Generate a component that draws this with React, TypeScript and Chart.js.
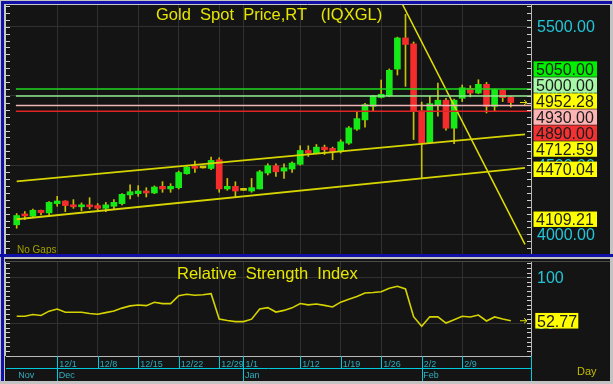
import React, { useEffect, useRef } from 'react';
import { Chart, registerables } from 'chart.js';

Chart.register(...registerables);

// ---------------- data ----------------
const dates = [
  '11/24', '11/25', '11/26', '11/27', '11/28',
  '12/1', '12/2', '12/3', '12/4', '12/5',
  '12/8', '12/9', '12/10', '12/11', '12/12',
  '12/15', '12/16', '12/17', '12/18', '12/19',
  '12/22', '12/23', '12/24', '12/25', '12/26',
  '12/29', '12/30', '12/31', '1/1', '1/2',
  '1/5', '1/6', '1/7', '1/8', '1/9',
  '1/12', '1/13', '1/14', '1/15', '1/16',
  '1/19', '1/20', '1/21', '1/22', '1/23',
  '1/26', '1/27', '1/28', '1/29', '1/30',
  '2/2', '2/3', '2/4', '2/5', '2/6',
  '2/9', '2/10', '2/11', '2/12', '2/13',
  '2/16', '2/17',
];

const openPrices = [
  4069, 4140, 4131, 4174, 4155,
  4222, 4241, 4213, 4199, 4213,
  4208, 4188, 4203, 4222, 4285,
  4294, 4313, 4299, 4347, 4328,
  4337, 4438, 4486, 4480, 4476,
  4539, 4328, 4347, 4318, 4313,
  4328, 4443, 4496, 4457, 4472,
  4506, 4606, 4587, 4630, 4621,
  4597, 4659, 4760, 4827, 4925,
  4989, 5002, 5194, 5419, 5376,
  4892, 4661, 4935, 4969, 4767,
  4983, 5055, 5021, 5084, 4925,
  5041, 4992,
];
const highPrices = [
  4150, 4165, 4182, 4176, 4236,
  4275, 4243, 4251, 4227, 4265,
  4222, 4231, 4251, 4294, 4357,
  4352, 4337, 4350, 4381, 4366,
  4457, 4496, 4530, 4481, 4558,
  4553, 4404, 4380, 4319, 4404,
  4462, 4510, 4510, 4510, 4524,
  4640, 4640, 4649, 4645, 4630,
  4683, 4779, 4889, 4947, 5005,
  5115, 5195, 5425, 5590, 5390,
  4956, 4997, 5093, 4983, 4978,
  5079, 5074, 5117, 5098, 5050,
  5045, 4997,
];
const lowPrices = [
  4044, 4107, 4125, 4141, 4142,
  4203, 4164, 4188, 4170, 4184,
  4178, 4164, 4180, 4213, 4256,
  4275, 4270, 4294, 4304, 4304,
  4328, 4434, 4447, 4479, 4467,
  4304, 4318, 4270, 4317, 4304,
  4328, 4429, 4419, 4404, 4448,
  4500, 4563, 4582, 4577, 4539,
  4587, 4650, 4750, 4774, 4890,
  4985, 4995, 5151, 5069, 4685,
  4409, 4655, 4853, 4753, 4656,
  4959, 4993, 5016, 4877, 4892,
  4959, 4920,
];
const closePrices = [
  4136, 4133, 4174, 4157, 4231,
  4241, 4208, 4199, 4213, 4199,
  4188, 4213, 4231, 4289, 4308,
  4313, 4299, 4342, 4328, 4347,
  4447, 4486, 4477, 4480, 4534,
  4328, 4347, 4313, 4318, 4337,
  4452, 4496, 4452, 4481, 4515,
  4606, 4587, 4630, 4611, 4597,
  4668, 4769, 4836, 4937, 5000,
  5012, 5185, 5419, 5372, 4892,
  4661, 4944, 4969, 4767, 4969,
  5059, 5021, 5084, 4925, 5045,
  4988, 4952.28,
];

const rsiValues = [
  57.6, 57.6, 59.5, 58.5, 63.2,
  65.5, 62, 62, 62, 60.6,
  59.8, 61.6, 63.4, 66.5, 68.9,
  69.9, 69.2, 72.8, 71.4, 71.4,
  80, 81.5, 80.5, 81, 82.2,
  54.7, 53, 51.8, 51.8, 54.5,
  65.5, 67, 62.2, 64, 66.8,
  71.5, 70, 71, 69.5, 67.7,
  73, 76, 79, 82.9, 83.5,
  84.3, 88, 90.2, 87.3, 57.2,
  46.7, 57, 57, 50.3, 53.9,
  57.6, 56.9, 59, 52.5, 56.9,
  54.7, 52.77,
];

const weekTickDates = ['12/1', '12/8', '12/15', '12/22', '12/29', '1/1', '1/12', '1/19', '1/26', '2/2', '2/9'];
const monthLabels = ['Nov', 'Dec', 'Jan', 'Feb'];
const monthStartDates = ['11/24', '12/1', '1/1', '2/2'];

const priceAxisTicks = [5500, 5000, 4500, 4000];
const rsiAxisTicks = [100, 50];

const levelValues = [5050, 5000, 4930, 4890];

// trend lines (bar index, price)
const upperChannelIdx = [0, 61, 62.75];
const upperChannelVal = [4383, 4712.59, 4722];
const lowerChannelIdx = [0, 61, 62.75];
const lowerChannelVal = [4109.21, 4470.04, 4480.4];
const downTrendIdx = [47, 62.75];
const downTrendVal = [5734, 3927];

// ---------------- styles ----------------
const FONT = 'Arial, "Liberation Sans", Helvetica, sans-serif';
const BG = '#141414';
const GRID = '#303030';
const AXIS = '#b8b8b8';
const TICKC = '#d0d0d0';
const CYAN = '#22c6d8';
const YEL = '#e6e600';
const LINE_Y = '#d6d400';
const WICK = '#c8c000';
const UP = '#16ea16';
const DOWN = '#f42c2c';
const DOJI = '#d0c800';
const BLUE = '#1010a6';
const levelColors = ['#1ed81e', '#8ee88e', '#f0b4b4', '#e02424'];

const PRICE_MIN = 3858;
const PRICE_MAX = 5657;
const RSI_MIN = 14.46;
const RSI_MAX = 116.6;
const X_MIN = -1.321;
const X_MAX = 63.494;
const AXIS_W = 79;

const idxOf = (d: string) => dates.indexOf(d);

function drawArrow(ctx: any, xEnd: number, y: number) {
  ctx.save();
  ctx.strokeStyle = YEL;
  ctx.lineWidth = 1;
  ctx.beginPath();
  ctx.moveTo(xEnd - 7, y);
  ctx.lineTo(xEnd, y);
  ctx.moveTo(xEnd - 3, y - 2.5);
  ctx.lineTo(xEnd, y);
  ctx.lineTo(xEnd - 3, y + 2.5);
  ctx.stroke();
  ctx.restore();
}

function PriceChart() {
  const ref = useRef<HTMLCanvasElement>(null);
  useEffect(() => {
    const canvas = ref.current as HTMLCanvasElement;
    const n = dates.length;
    const lastClose = closePrices[n - 1];
    const weekIdx = weekTickDates.map(idxOf);

    const bodyColors = openPrices.map((o, i) =>
      closePrices[i] > o ? UP : closePrices[i] < o ? DOWN : DOJI
    );

    const markers = [
      { v: levelValues[0], bg: '#00f000' },
      { v: levelValues[1], bg: '#a6f7a6' },
      { v: lastClose, bg: '#ffff00' },
      { v: levelValues[2], bg: '#ffb4b4' },
      { v: levelValues[3], bg: '#f23232' },
      { v: upperChannelVal[1], bg: '#ffff00' },
      { v: lowerChannelVal[1], bg: '#ffff00' },
      { v: lowerChannelVal[0], bg: '#ffff00' },
    ];

    const decor = {
      id: 'priceDecor',
      beforeDraw(chart: any) {
        const { ctx, width, height } = chart;
        ctx.save();
        ctx.fillStyle = BG;
        ctx.fillRect(0, 0, width, height);
        ctx.restore();
      },
      afterDraw(chart: any) {
        const { ctx, chartArea: a, scales } = chart;
        const ys = scales.y;
        ctx.save();
        // frame lines
        ctx.strokeStyle = '#c8c8c8';
        ctx.lineWidth = 1;
        ctx.beginPath();
        ctx.moveTo(0, 0.5);
        ctx.lineTo(chart.width, 0.5);
        ctx.moveTo(0.5, 0);
        ctx.lineTo(0.5, chart.height);
        ctx.stroke();
        // minor ticks every 50
        ctx.strokeStyle = TICKC;
        ctx.beginPath();
        for (let v = 3900; v <= 5650; v += 50) {
          const y = Math.round(ys.getPixelForValue(v)) + 0.5;
          ctx.moveTo(a.left, y);
          ctx.lineTo(a.left + 4, y);
          ctx.moveTo(a.right - 4, y);
          ctx.lineTo(a.right, y);
        }
        ctx.stroke();
        // axis labels
        ctx.font = `16px ${FONT}`;
        ctx.textAlign = 'left';
        ctx.textBaseline = 'alphabetic';
        ctx.fillStyle = CYAN;
        for (const v of priceAxisTicks) {
          ctx.fillText(v.toFixed(2), a.right + 6, ys.getPixelForValue(v) + 5.7);
        }
        // title
        ctx.font = `16.5px ${FONT}`;
        ctx.fillStyle = YEL;
        ctx.fillText('Gold  Spot  Price,RT   (IQXGL)', 151, 16);
        // No Gaps
        ctx.font = `10px ${FONT}`;
        ctx.fillStyle = '#a0a000';
        ctx.fillText('No Gaps', 12, 249);
        // arrow to last price
        drawArrow(ctx, a.right - 4, ys.getPixelForValue(lastClose));
        // stacked value boxes
        const items: any[] = markers.map((m) => ({ ...m, y: ys.getPixelForValue(m.v), cy: 0 }));
        const ai = 2;
        items[ai].cy = items[ai].y - 1.5;
        for (let k = ai - 1; k >= 0; k--) items[k].cy = Math.min(items[k].y, items[k + 1].cy - 16);
        for (let k = ai + 1; k < items.length; k++) items[k].cy = Math.max(items[k].y, items[k - 1].cy + 16);
        ctx.font = `16px ${FONT}`;
        for (const it of items) {
          ctx.fillStyle = it.bg;
          ctx.fillRect(a.right + 2.5, it.cy - 7.7, 63.5, 15.4);
          ctx.fillStyle = '#1c1c1c';
          ctx.fillText(it.v.toFixed(2), a.right + 5, it.cy + 5.8);
        }
        ctx.restore();
      },
    };

    const lineDs = (pts: any[], color: string, width: number) => ({
      type: 'line',
      data: pts,
      borderColor: color,
      borderWidth: width,
      pointRadius: 0,
      tension: 0,
      fill: false,
      order: 1,
    });

    const datasets: any[] = [
      {
        type: 'bar',
        data: dates.map((_, i) => ({ x: i, y: [lowPrices[i], highPrices[i]] })),
        backgroundColor: WICK,
        barThickness: 1,
        grouped: false,
        order: 5,
      },
      {
        type: 'bar',
        data: dates.map((_, i) => ({ x: i, y: [openPrices[i], closePrices[i]] })),
        backgroundColor: bodyColors,
        barThickness: 6,
        grouped: false,
        minBarLength: 2,
        order: 4,
      },
      ...levelValues.map((v, k) =>
        lineDs([{ x: -0.1, y: v }, { x: X_MAX, y: v }], levelColors[k], 1.5)
      ),
      lineDs(upperChannelIdx.map((x, k) => ({ x, y: upperChannelVal[k] })), LINE_Y, 1.8),
      lineDs(lowerChannelIdx.map((x, k) => ({ x, y: lowerChannelVal[k] })), LINE_Y, 1.8),
      lineDs(downTrendIdx.map((x, k) => ({ x, y: downTrendVal[k] })), '#e2e000', 1.5),
    ];

    const chart = new Chart(canvas, {
      type: 'bar',
      data: { datasets },
      options: {
        animation: false,
        responsive: false,
        devicePixelRatio: 1,
        events: [],
        layout: { padding: { left: 1, top: 1, right: 0, bottom: 0 } },
        plugins: { legend: { display: false }, tooltip: { enabled: false }, title: { display: false } },
        scales: {
          x: {
            type: 'linear',
            min: X_MIN,
            max: X_MAX,
            offset: false,
            ticks: { display: false },
            grid: { color: GRID, drawTicks: false, offset: false },
            border: { display: false },
            afterBuildTicks: (s: any) => {
              s.ticks = weekIdx.map((v) => ({ value: v }));
            },
          },
          y: {
            type: 'linear',
            position: 'right',
            min: PRICE_MIN,
            max: PRICE_MAX,
            beginAtZero: false,
            ticks: { display: false },
            grid: { color: GRID, drawTicks: false },
            border: { display: true, color: AXIS },
            afterBuildTicks: (s: any) => {
              s.ticks = priceAxisTicks.map((v) => ({ value: v }));
            },
            afterFit: (s: any) => {
              s.width = AXIS_W;
            },
          },
        },
      } as any,
      plugins: [decor],
    } as any);
    return () => chart.destroy();
  }, []);
  return (
    <canvas
      ref={ref}
      width={605}
      height={250}
      style={{ position: 'absolute', left: 5, top: 4, width: 605, height: 250 }}
    />
  );
}

function RsiChart() {
  const ref = useRef<HTMLCanvasElement>(null);
  useEffect(() => {
    const canvas = ref.current as HTMLCanvasElement;
    const n = rsiValues.length;
    const lastRsi = rsiValues[n - 1];
    const weekIdx = weekTickDates.map(idxOf);
    const monthIdx = monthStartDates.map(idxOf);

    const decor = {
      id: 'rsiDecor',
      beforeDraw(chart: any) {
        const { ctx, width, height } = chart;
        ctx.save();
        ctx.fillStyle = BG;
        ctx.fillRect(0, 0, width, height);
        ctx.restore();
      },
      afterDraw(chart: any) {
        const { ctx, chartArea: a, scales } = chart;
        const xs = scales.x;
        const ys = scales.y;
        ctx.save();
        ctx.lineWidth = 1;
        // faint top line
        ctx.strokeStyle = '#4a4a4a';
        ctx.beginPath();
        ctx.moveTo(0, 2.5);
        ctx.lineTo(chart.width, 2.5);
        ctx.stroke();
        // left axis line
        ctx.strokeStyle = '#c8c8c8';
        ctx.beginPath();
        ctx.moveTo(0.5, a.top);
        ctx.lineTo(0.5, a.bottom);
        ctx.stroke();
        // minor ticks every 5
        ctx.strokeStyle = TICKC;
        ctx.beginPath();
        for (let v = 15; v <= 115; v += 5) {
          const y = Math.round(ys.getPixelForValue(v)) + 0.5;
          ctx.moveTo(a.left, y);
          ctx.lineTo(a.left + 4, y);
          ctx.moveTo(a.right - 4, y);
          ctx.lineTo(a.right, y);
        }
        ctx.stroke();
        // axis labels
        ctx.font = `16px ${FONT}`;
        ctx.textAlign = 'left';
        ctx.textBaseline = 'alphabetic';
        ctx.fillStyle = CYAN;
        for (const v of rsiAxisTicks) {
          ctx.fillText(String(v), a.right + 6, ys.getPixelForValue(v) + 5.7);
        }
        // title
        ctx.font = `16.5px ${FONT}`;
        ctx.fillStyle = YEL;
        ctx.fillText('Relative  Strength  Index', 172, 20);

        // date axis
        const rowTop = a.bottom;
        const rowMid = a.bottom + 12.5;
        const rowBot = chart.height;
        ctx.strokeStyle = '#00cadb';
        ctx.beginPath();
        ctx.moveTo(a.left, rowMid);
        ctx.lineTo(a.right, rowMid);
        for (const i of weekIdx) {
          const x = Math.round(xs.getPixelForValue(i)) + 0.5;
          ctx.moveTo(x, rowTop);
          ctx.lineTo(x, rowMid);
        }
        monthIdx.forEach((i, k) => {
          if (k === 0) return;
          const x = Math.round(xs.getPixelForValue(i)) + 0.5;
          ctx.moveTo(x, rowTop);
          ctx.lineTo(x, rowBot);
        });
        ctx.moveTo(Math.round(a.right) + 0.5, rowTop);
        ctx.lineTo(Math.round(a.right) + 0.5, rowBot);
        ctx.stroke();

        ctx.font = `9px ${FONT}`;
        ctx.fillStyle = '#30aebe';
        weekIdx.forEach((i, k) => {
          ctx.fillText(weekTickDates[k], xs.getPixelForValue(i) + 2, rowMid - 1.5);
        });
        monthIdx.forEach((i, k) => {
          ctx.fillText(monthLabels[k], xs.getPixelForValue(i) + 1.5, rowBot - 3);
        });

        ctx.font = `11px ${FONT}`;
        ctx.fillStyle = '#c4bc00';
        ctx.fillText('Day', 572, 116);

        // arrow + last value box
        const yl = ys.getPixelForValue(lastRsi);
        drawArrow(ctx, a.right - 4, yl);
        ctx.fillStyle = '#ffff00';
        ctx.fillRect(a.right + 4.3, yl - 7.8, 43, 15.6);
        ctx.font = `16px ${FONT}`;
        ctx.fillStyle = '#1c1c1c';
        ctx.fillText(lastRsi.toFixed(2), a.right + 6, yl + 5.8);
        ctx.restore();
      },
    };

    const chart = new Chart(canvas, {
      type: 'line',
      data: {
        datasets: [
          {
            data: rsiValues.map((v, i) => ({ x: i, y: v })),
            borderColor: LINE_Y,
            borderWidth: 1.6,
            pointRadius: 0,
            tension: 0,
            fill: false,
          },
        ],
      },
      options: {
        animation: false,
        responsive: false,
        devicePixelRatio: 1,
        events: [],
        layout: { padding: { left: 1, top: 3, right: 0, bottom: 25 } },
        plugins: { legend: { display: false }, tooltip: { enabled: false }, title: { display: false } },
        scales: {
          x: {
            type: 'linear',
            min: X_MIN,
            max: X_MAX,
            offset: false,
            ticks: { display: false },
            grid: { color: GRID, drawTicks: false, offset: false },
            border: { display: true, color: AXIS },
            afterBuildTicks: (s: any) => {
              s.ticks = weekIdx.map((v) => ({ value: v }));
            },
          },
          y: {
            type: 'linear',
            position: 'right',
            min: RSI_MIN,
            max: RSI_MAX,
            ticks: { display: false },
            grid: { color: GRID, drawTicks: false },
            border: { display: true, color: AXIS },
            afterBuildTicks: (s: any) => {
              s.ticks = rsiAxisTicks.map((v) => ({ value: v }));
            },
            afterFit: (s: any) => {
              s.width = AXIS_W;
            },
          },
        },
      } as any,
      plugins: [decor],
    } as any);
    return () => chart.destroy();
  }, []);
  return (
    <canvas
      ref={ref}
      width={605}
      height={122}
      style={{ position: 'absolute', left: 5, top: 259, width: 605, height: 122 }}
    />
  );
}

export default function App() {
  return (
    <div
      style={{
        position: 'absolute',
        left: 0,
        top: 0,
        width: 613,
        height: 384,
        background: '#c3c3c3',
        overflow: 'hidden',
      }}
    >
      <div style={{ position: 'absolute', left: 1, top: 1, width: 611, height: 3, background: BLUE }} />
      <div style={{ position: 'absolute', left: 1, top: 1, width: 3, height: 380, background: BLUE }} />
      <div style={{ position: 'absolute', left: 0, top: 254, width: 613, height: 3, background: BLUE }} />
      <PriceChart />
      <RsiChart />
    </div>
  );
}
